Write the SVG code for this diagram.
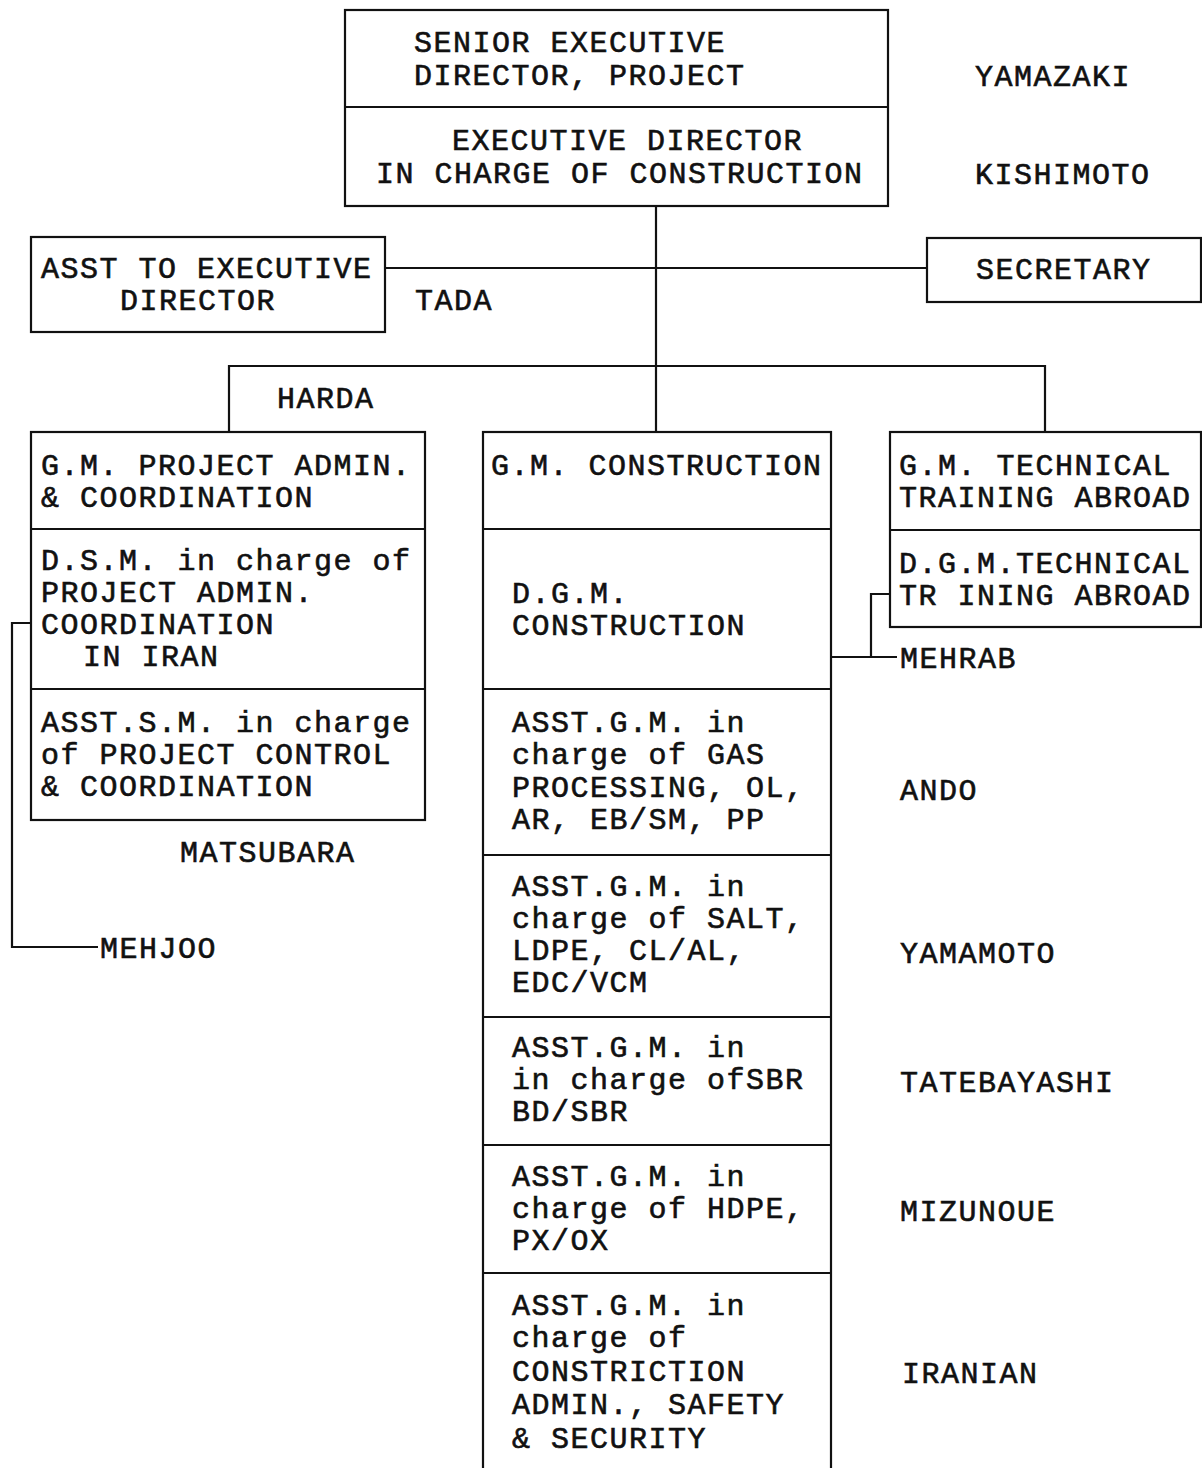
<svg xmlns="http://www.w3.org/2000/svg" width="1202" height="1468" viewBox="0 0 1202 1468">
<style>
rect.box{fill:none;stroke:#111;stroke-width:2.2}
line,path{stroke:#111;stroke-width:2.2;fill:none}
text{font-family:"Liberation Mono","DejaVu Sans Mono",monospace;font-size:30px;letter-spacing:1.5px;fill:#111;stroke:#111;stroke-width:0.6}
</style>
<rect width="1202" height="1468" fill="#fff"/>
<g id="connectors">
<line x1="656" y1="206" x2="656" y2="432"/>
<line x1="385" y1="268" x2="927" y2="268"/>
<path d="M229 432 V366 H1045 V432"/>
<path d="M31 623 H12 V947 H98"/>
<path d="M831 657 H897 M871 657 V594 H890"/>
</g>
<g id="top">
<rect class="box" x="345" y="10" width="543" height="196"/>
<line x1="345" y1="107" x2="888" y2="107"/>
<text x="414" y="52">SENIOR EXECUTIVE</text>
<text x="414" y="85">DIRECTOR, PROJECT</text>
<text x="452" y="150">EXECUTIVE DIRECTOR</text>
<text x="376" y="183">IN CHARGE OF CONSTRUCTION</text>
</g>
<g id="names-top">
<text x="975" y="86">YAMAZAKI</text>
<text x="975" y="184">KISHIMOTO</text>
</g>
<g id="asst">
<rect class="box" x="31" y="237" width="354" height="95"/>
<text x="41" y="278">ASST TO EXECUTIVE</text>
<text x="120" y="310">DIRECTOR</text>
<text x="415" y="310">TADA</text>
</g>
<g id="secretary">
<rect class="box" x="927" y="238" width="274" height="64"/>
<text x="976" y="279">SECRETARY</text>
</g>
<text x="277" y="408">HARDA</text>
<g id="left">
<rect class="box" x="31" y="432" width="394" height="388"/>
<line x1="31" y1="529" x2="425" y2="529"/>
<line x1="31" y1="689" x2="425" y2="689"/>
<text x="41" y="475">G.M. PROJECT ADMIN.</text>
<text x="41" y="507">&amp; COORDINATION</text>
<text x="41" y="570">D.S.M. in charge of</text>
<text x="41" y="602">PROJECT ADMIN.</text>
<text x="41" y="634">COORDINATION</text>
<text x="83" y="666">IN IRAN</text>
<text x="41" y="732">ASST.S.M. in charge</text>
<text x="41" y="764">of PROJECT CONTROL</text>
<text x="41" y="796">&amp; COORDINATION</text>
</g>
<text x="180" y="862">MATSUBARA</text>
<text x="100" y="958">MEHJOO</text>
<g id="center">
<rect class="box" x="483" y="432" width="348" height="1050"/>
<line x1="483" y1="529" x2="831" y2="529"/>
<line x1="483" y1="689" x2="831" y2="689"/>
<line x1="483" y1="855" x2="831" y2="855"/>
<line x1="483" y1="1017" x2="831" y2="1017"/>
<line x1="483" y1="1145" x2="831" y2="1145"/>
<line x1="483" y1="1273" x2="831" y2="1273"/>
<text x="491" y="475">G.M. CONSTRUCTION</text>
<text x="512" y="603">D.G.M.</text>
<text x="512" y="635">CONSTRUCTION</text>
<text x="512" y="732">ASST.G.M. in</text>
<text x="512" y="764">charge of GAS</text>
<text x="512" y="797">PROCESSING, OL,</text>
<text x="512" y="829">AR, EB/SM, PP</text>
<text x="512" y="896">ASST.G.M. in</text>
<text x="512" y="928">charge of SALT,</text>
<text x="512" y="960">LDPE, CL/AL,</text>
<text x="512" y="992">EDC/VCM</text>
<text x="512" y="1057">ASST.G.M. in</text>
<text x="512" y="1089">in charge ofSBR</text>
<text x="512" y="1121">BD/SBR</text>
<text x="512" y="1186">ASST.G.M. in</text>
<text x="512" y="1218">charge of HDPE,</text>
<text x="512" y="1250">PX/OX</text>
<text x="512" y="1315">ASST.G.M. in</text>
<text x="512" y="1347">charge of</text>
<text x="512" y="1381">CONSTRICTION</text>
<text x="512" y="1414">ADMIN., SAFETY</text>
<text x="512" y="1448">&amp; SECURITY</text>
</g>
<g id="right">
<rect class="box" x="890" y="432" width="311" height="195"/>
<line x1="890" y1="530" x2="1201" y2="530"/>
<text x="899" y="475">G.M. TECHNICAL</text>
<text x="899" y="507">TRAINING ABROAD</text>
<text x="899" y="573">D.G.M.TECHNICAL</text>
<text x="899" y="605">TR INING ABROAD</text>
</g>
<text x="900" y="668">MEHRAB</text>
<g id="names-center">
<text x="900" y="800">ANDO</text>
<text x="900" y="963">YAMAMOTO</text>
<text x="900" y="1092">TATEBAYASHI</text>
<text x="900" y="1221">MIZUNOUE</text>
<text x="902" y="1383">IRANIAN</text>
</g>
</svg>
